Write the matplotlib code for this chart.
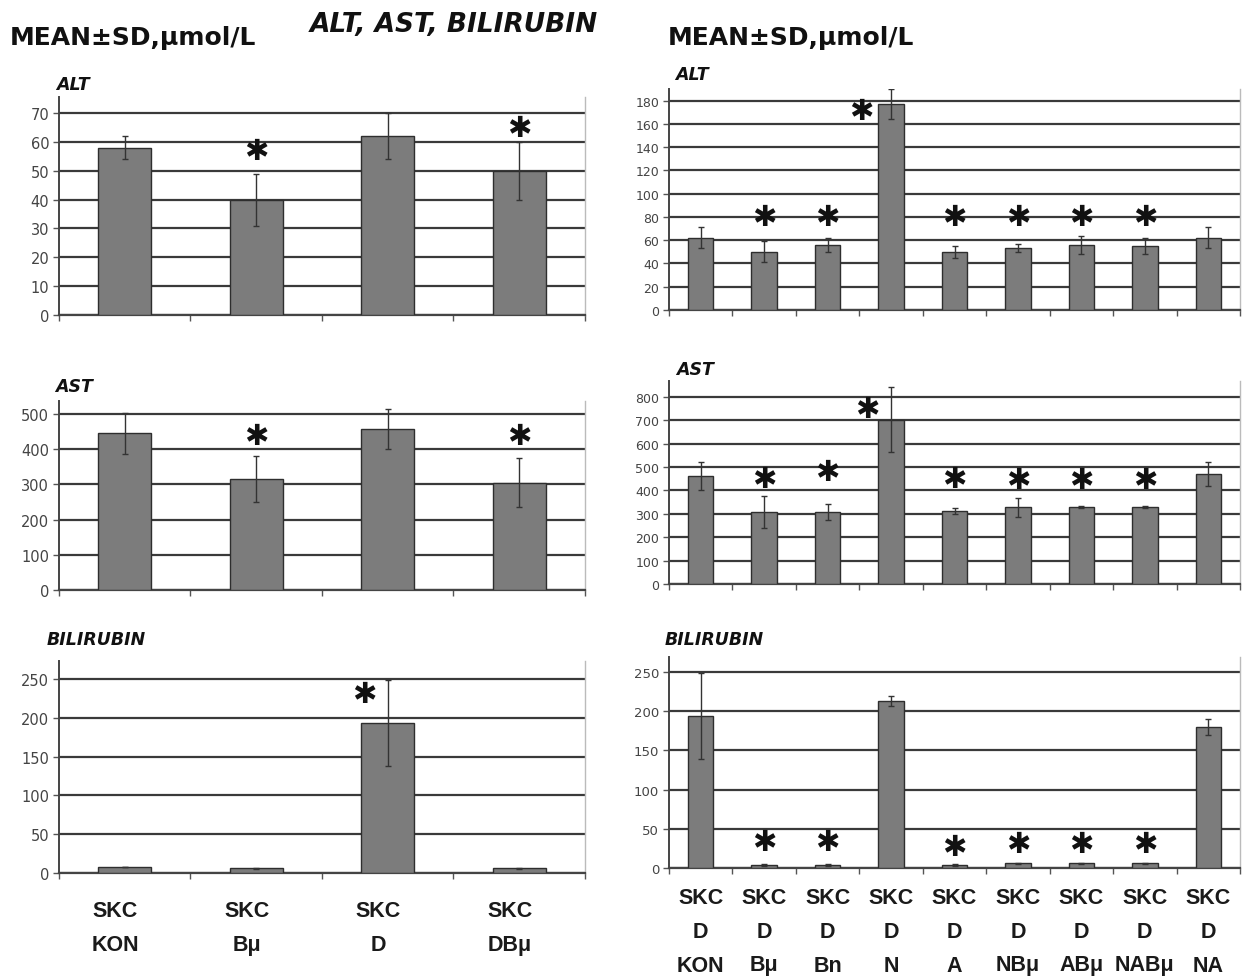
import matplotlib
matplotlib.use("Agg")
import matplotlib.pyplot as plt
import numpy as np
from matplotlib import font_manager as fm

# ---------------- data ----------------
left_groups_top = ["SKC", "SKC", "SKC", "SKC"]
left_groups_bot = ["KON", "Bμ", "D", "DBμ"]

left_alt_mean = [58, 40, 62, 50]
left_alt_sd = [4, 9, 8, 10]
left_alt_star = [None, 57, None, 65]

left_ast_mean = [445, 315, 458, 305]
left_ast_sd = [58, 65, 57, 70]
left_ast_star = [None, 437, None, 437]

left_bil_mean = [8, 6, 193, 6]
left_bil_sd = [0, 1, 55, 1]
left_bil_star = [None, None, 231, None]

right_groups_top = ["SKC"] * 9
right_groups_mid = ["D"] * 9
right_groups_bot = ["KON", "Bμ", "Bn", "N", "A", "NBμ", "ABμ", "NABμ", "NA"]

right_alt_mean = [62, 50, 56, 177, 50, 53, 56, 55, 62]
right_alt_sd = [9, 9, 6, 13, 5, 3.5, 7.5, 7, 9]
right_alt_star = [None, 80, 80, 171, 80, 80, 80, 80, None]

right_ast_mean = [461, 308, 308, 703, 312, 328, 328, 328, 471]
right_ast_sd = [60, 70, 35, 138, 14, 40, 4, 4, 52]
right_ast_star = [None, 451, 479, 750, 451, 444, 444, 444, None]

right_bil_mean = [194, 4, 4, 213, 4, 6, 6, 6, 180]
right_bil_sd = [55, 1, 1, 6, 1, 0.5, 0.5, 0.5, 10]
right_bil_star = [None, 33, 33, None, 27, 30, 30, 30, None]

# ---------------- style ----------------
W, H = 1252, 978
fig = plt.figure(figsize=(W / 100, H / 100), dpi=100)
fig.patch.set_facecolor("white")

names = {f.name for f in fm.fontManager.ttflist}
narrow = "Liberation Sans Narrow" if "Liberation Sans Narrow" in names else "DejaVu Sans"
sans = "Liberation Sans" if "Liberation Sans" in names else "DejaVu Sans"

BAR = "#7c7c7c"
EDGE = "#2e2e2e"
GRID = "#3a3a3a"


def fx(px):
    return px / W


def fy(py):
    return 1 - py / H


def axes_box(x0, x1, ytop, ybot):
    return [fx(x0), fy(ybot), fx(x1) - fx(x0), (ybot - ytop) / H]


def panel(box, means, sds, stars, yticks, ytop, star_dx=None, tick_fs=10.5):
    ax = fig.add_axes(box)
    n = len(means)
    x = np.arange(n)
    ax.set_xlim(-0.5, n - 0.5)
    ax.set_ylim(0, ytop)
    for t in yticks:
        ax.axhline(t, color=GRID, lw=1.6, zorder=1)
    ax.bar(x, means, width=0.4, color=BAR, edgecolor=EDGE, linewidth=1.0, zorder=3)
    ax.errorbar(x, means, yerr=sds, fmt="none", ecolor="#333333", elinewidth=1.0,
                capsize=2.5, capthick=1.0, zorder=4)
    for i, s in enumerate(stars):
        if s is None:
            continue
        dx = 0 if star_dx is None else star_dx[i]
        ax.text(i + dx, s, "✱", ha="center", va="center", fontsize=21,
                family="DejaVu Sans", color="#111111", zorder=5)
    ax.set_yticks(yticks)
    ax.set_yticklabels([str(t) for t in yticks], family=narrow, fontsize=tick_fs, color="#444444")
    ax.set_xticks(np.arange(n + 1) - 0.5, minor=True)
    ax.set_xticks([])
    ax.tick_params(axis="x", which="minor", length=4, width=1, color="#555555", direction="out")
    ax.tick_params(axis="y", length=4, width=1, color="#555555", pad=3)
    ax.spines["top"].set_visible(False)
    ax.spines["left"].set_color("#444444")
    ax.spines["left"].set_linewidth(1.4)
    ax.spines["bottom"].set_color("#444444")
    ax.spines["bottom"].set_linewidth(1.6)
    ax.spines["right"].set_color("#bbbbbb")
    ax.spines["right"].set_linewidth(1.0)
    ax.set_facecolor("none")
    return ax


# left column
axL1 = panel(axes_box(59, 585, 98, 316), left_alt_mean, left_alt_sd, left_alt_star,
             list(range(0, 71, 10)), 75.6)
axL2 = panel(axes_box(59, 585, 402, 591), left_ast_mean, left_ast_sd, left_ast_star,
             list(range(0, 501, 100)), 537)
axL3 = panel(axes_box(59, 585, 662, 874), left_bil_mean, left_bil_sd, left_bil_star,
             list(range(0, 251, 50)), 273, star_dx=[0, 0, -0.18, 0])

# right column
rdx_alt = [0, 0, 0, -0.47, 0, 0, 0, 0, 0]
rdx_ast = [0, 0, 0, -0.38, 0, 0, 0, 0, 0]
axR1 = panel(axes_box(669, 1240, 90, 311), right_alt_mean, right_alt_sd, right_alt_star,
             list(range(0, 181, 20)), 190, star_dx=rdx_alt, tick_fs=9)
axR2 = panel(axes_box(669, 1240, 382, 585), right_ast_mean, right_ast_sd, right_ast_star,
             list(range(0, 801, 100)), 868, star_dx=rdx_ast, tick_fs=9)
axR3 = panel(axes_box(669, 1240, 658, 869), right_bil_mean, right_bil_sd, right_bil_star,
             list(range(0, 251, 50)), 269, tick_fs=9.5)

# category labels
for i, (a, b) in enumerate(zip(left_groups_top, left_groups_bot)):
    for s, off in [(a, 38), (b, 72)]:
        axL3.annotate(s, xy=(i - 0.07, 0), xycoords=("data", "axes fraction"),
                      xytext=(0, -off), textcoords="offset pixels",
                      ha="center", va="center", fontsize=15.5, fontweight="bold",
                      family=sans, color="#1a1a1a", annotation_clip=False)
for i, (a, b, c) in enumerate(zip(right_groups_top, right_groups_mid, right_groups_bot)):
    for s, off in [(a, 29), (b, 63), (c, 97)]:
        axR3.annotate(s, xy=(i, 0), xycoords=("data", "axes fraction"),
                      xytext=(0, -off), textcoords="offset pixels",
                      ha="center", va="center", fontsize=15.5, fontweight="bold",
                      family=sans, color="#1a1a1a", annotation_clip=False)

# titles
fig.text(fx(10), fy(38), "MEAN±SD,µmol/L", ha="left", va="center", fontsize=18,
         fontweight="heavy", family="DejaVu Sans", color="#111111")
fig.text(fx(668), fy(38), "MEAN±SD,µmol/L", ha="left", va="center", fontsize=18,
         fontweight="heavy", family="DejaVu Sans", color="#111111")
fig.text(fx(310), fy(25), "ALT, AST, BILIRUBIN", ha="left", va="center", fontsize=19,
         fontweight="bold", fontstyle="italic", family="DejaVu Sans", color="#111111")

# panel labels
for (px, py, s) in [(56, 85, "ALT"), (55, 387, "AST"), (47, 640, "BILIRUBIN"),
                    (675, 75, "ALT"), (676, 370, "AST"), (665, 640, "BILIRUBIN")]:
    fig.text(fx(px), fy(py), s, ha="left", va="center", fontsize=12.5,
             fontweight="bold", fontstyle="italic", family="DejaVu Sans", color="#111111")

fig.savefig("out.png", dpi=100, facecolor="white")
